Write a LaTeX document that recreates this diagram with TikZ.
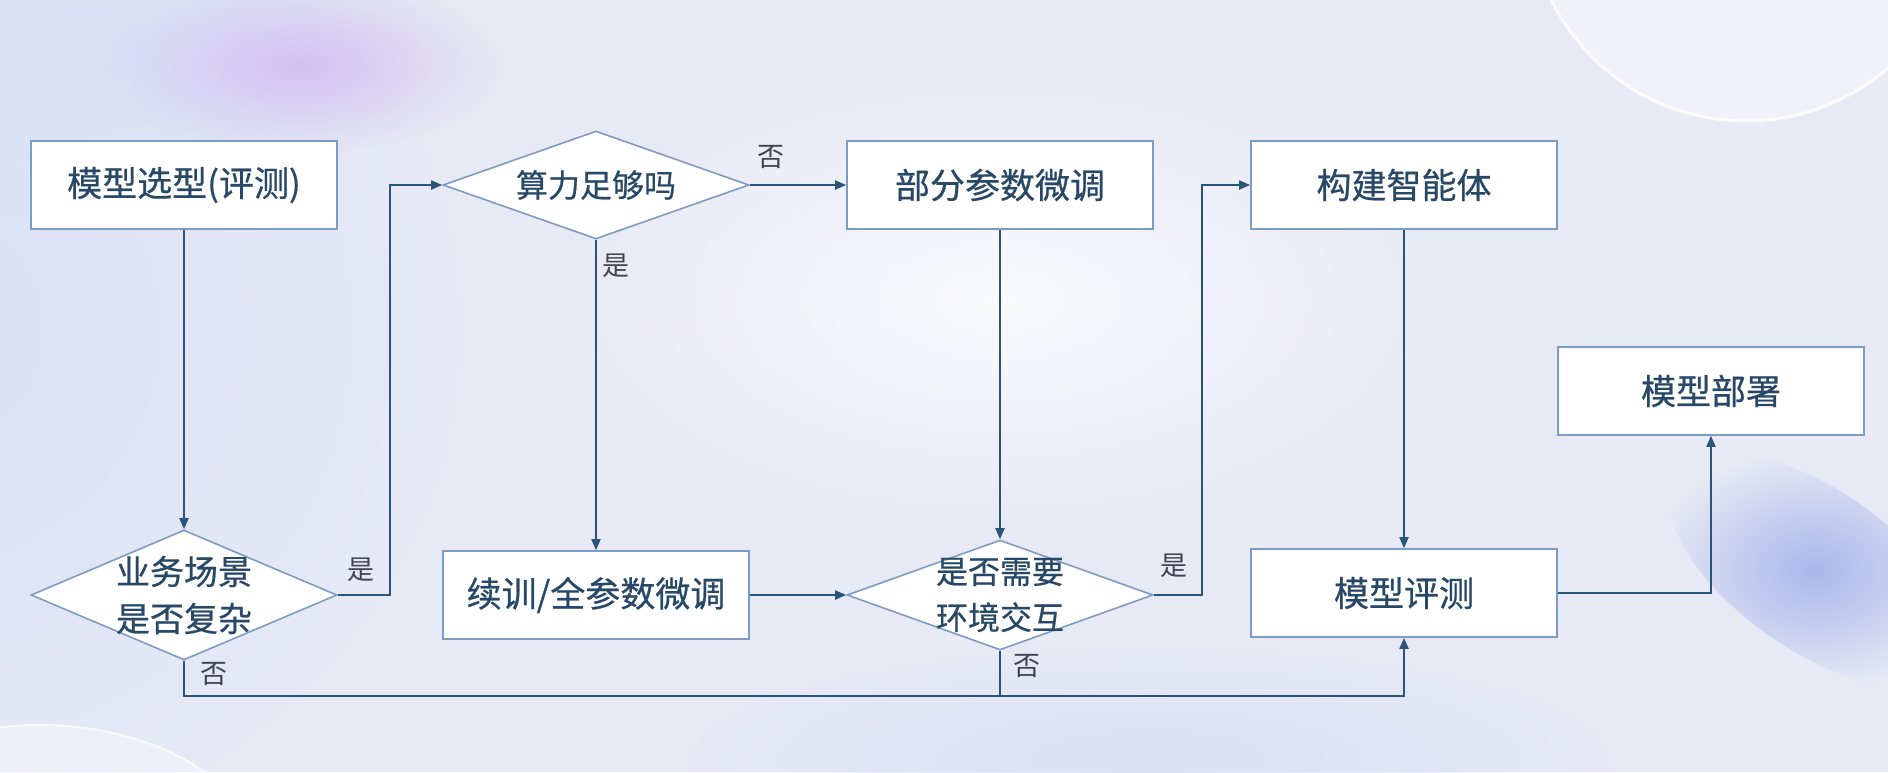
\documentclass[tikz,border=0pt]{standalone}
\usepackage{fontspec}
\newfontfamily\cjk[FakeBold=0.6]{Noto Sans CJK SC}
\newfontfamily\cjkl{Noto Sans CJK SC}
\usetikzlibrary{shapes.geometric,arrows.meta,calc,fadings}
\definecolor{bg}{HTML}{E7E9F5}
\definecolor{bgblue}{HTML}{D8E1F7}
\definecolor{glowp}{HTML}{D3C2F2}
\definecolor{streak}{HTML}{A9B7EC}
\definecolor{boxline}{HTML}{7D9CC4}
\definecolor{arrowc}{HTML}{2B5479}
\definecolor{txt}{HTML}{284868}
\definecolor{lbl}{HTML}{3F4450}
\tikzfading[name=softblob, inner color=transparent!0, outer color=transparent!100]
\begin{document}
\begin{tikzpicture}[x=1pt,y=-1pt,
 stepbox/.style={draw=boxline, line width=1.6pt, fill=white, minimum width=306pt, minimum height=88pt, inner sep=0pt, font=\cjk\fontsize{35}{40}\selectfont, text=txt},
 decision/.style={diamond, draw=boxline, line width=1.6pt, fill=white, inner sep=0pt, minimum width=306pt},
 dtext/.style={font=\cjk\fontsize{32}{46}\selectfont, text=txt, align=center, inner sep=0pt},
 arr/.style={draw=arrowc, line width=1.8pt, -{Triangle[length=11pt,width=9pt]}},
 ln/.style={draw=arrowc, line width=1.8pt},
 yn/.style={font=\cjkl\fontsize{27}{29}\selectfont, text=lbl, inner sep=0pt},
 blob/.style={path fading=softblob}]
% background
\useasboundingbox (0,0) rectangle (1888,772);
\fill[bg] (0,0) rectangle (1888,772);
\fill[bgblue, blob] (-100,330) ellipse (560 and 520);
\fill[bgblue, blob] (80,40) ellipse (340 and 180);
\fill[glowp, blob] (300,65) ellipse (200 and 90);
\fill[bgblue, blob] (1150,760) ellipse (460 and 110);
\fill[streak, blob, rotate around={-35:(1815,570)}] (1815,570) ellipse (170 and 80);
\fill[white, blob, opacity=0.8] (1000,300) ellipse (450 and 230);
\fill[white, opacity=0.45] (1746,-96) circle (217);
\draw[white, opacity=0.8, line width=3pt] (1746,-96) circle (217);
\fill[white, opacity=0.35] (40,880) ellipse (230 and 155);
\draw[white, opacity=0.7, line width=2pt] (40,880) ellipse (230 and 155);
% nodes
\node[stepbox] (b1) at (184,185) {模型选型(评测)};
\node[decision, minimum height=108pt] (d2) at (596,185) {};
\node[dtext] (d2t) at (d2.center) {算力足够吗};
\node[stepbox] (b3) at (1000,185) {部分参数微调};
\node[stepbox] (b4) at (1404,185) {构建智能体};
\node[stepbox] (b6) at (1711,391) {模型部署};
\node[decision, minimum height=130pt] (d1) at (184,595) {};
\node[dtext, font=\cjk\fontsize{34}{47}\selectfont] (d1t) at (d1.center) {业务场景\\是否复杂};
\node[stepbox] (b2) at (596,595) {续训/全参数微调};
\node[decision, minimum height=110pt] (d3) at (1000,595) {};
\node[dtext] (d3t) at (d3.center) {是否需要\\环境交互};
\node[stepbox] (b5) at (1404,593) {模型评测};
% connectors
\draw[arr] (b1.south) -- (d1.north);
\draw[arr] (d1.east) -- ++(52,0) |- (d2.west);
\draw[arr] (d2.south) -- (b2.north);
\draw[arr] (d2.east) -- (b3.west);
\draw[arr] (b3.south) -- (d3.north);
\draw[arr] (b2.east) -- (d3.west);
\draw[arr] (d3.east) -- ++(48,0) |- (b4.west);
\draw[arr] (b4.south) -- (b5.north);
\draw[arr] (b5.east) -| (b6.south);
\coordinate (bot) at (184,696);
\draw[arr] (d1.south) -- (bot) -| (b5.south);
\draw[ln] (d3.south) -- (d3.south |- bot);
% labels
\node[yn] (l1) at (361,570) {是};
\node[yn] (l2) at (616,266) {是};
\node[yn] (l3) at (771,157) {否};
\node[yn] (l4) at (1174,566) {是};
\node[yn] (l5) at (214,674) {否};
\node[yn] (l6) at (1027,666) {否};
\end{tikzpicture}
\end{document}
